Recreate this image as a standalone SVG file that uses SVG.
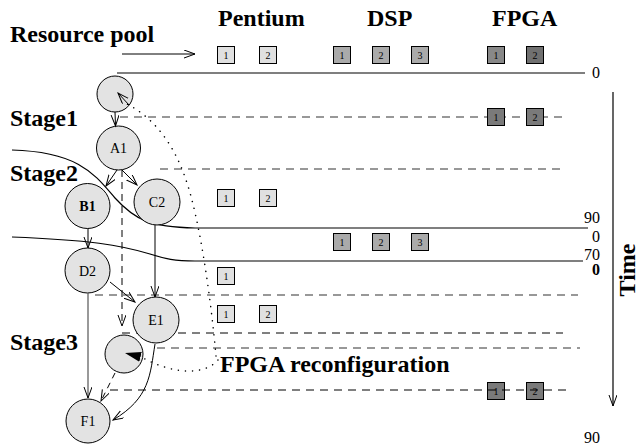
<svg xmlns="http://www.w3.org/2000/svg" width="641" height="448" viewBox="0 0 641 448">
<defs>
<marker id="open" markerUnits="userSpaceOnUse" markerWidth="14" markerHeight="10" refX="11" refY="4" orient="auto">
<path d="M0,0 L11,4 L0,8" fill="none" stroke="#000" stroke-width="1"/>
</marker>
<marker id="filled" markerUnits="userSpaceOnUse" markerWidth="18" markerHeight="12" refX="16" refY="5" orient="auto">
<path d="M0,0 L16,5 L0,10 Z" fill="#000"/>
</marker>
<style>
.big{font-family:"Liberation Serif","Times New Roman",serif;font-weight:bold;font-size:24px;fill:#000}
.num{font-family:"Liberation Serif","Times New Roman",serif;font-size:16px;fill:#000}
.lbl{font-family:"Liberation Serif","Times New Roman",serif;font-size:14px;text-anchor:middle;fill:#000}
.bx text{font-family:"Liberation Serif","Times New Roman",serif;font-size:10px;text-anchor:middle;fill:#000}
.pen rect{fill:#e0e0e0;stroke:#000;stroke-width:1}
.dsp rect{fill:#aaaaaa;stroke:#000;stroke-width:1}
.fpg rect{fill:#7a7a7a;stroke:#000;stroke-width:1}
.node circle{fill:#e3e3e3;stroke:#000;stroke-width:1}
.solid{fill:none;stroke:#000;stroke-width:1.2}
.gdash{fill:none;stroke:#777;stroke-width:1.4;stroke-dasharray:8 6}
.kdash{fill:none;stroke:#000;stroke-width:1;stroke-dasharray:8 6}
.arr{fill:none;stroke:#000;stroke-width:1;marker-end:url(#open)}
.dot{fill:none;stroke:#000;stroke-width:1.5;stroke-dasharray:0.1 7;stroke-linecap:round}
</style>
</defs>
<rect width="641" height="448" fill="#fff"/>

<g id="labels">
<text class="big" x="10" y="42">Resource pool</text>
<text class="big" x="218" y="26">Pentium</text>
<text class="big" x="367" y="26">DSP</text>
<text class="big" x="492" y="26">FPGA</text>
<text class="big" x="10" y="126">Stage1</text>
<text class="big" x="10" y="181">Stage2</text>
<text class="big" x="10" y="350">Stage3</text>
<text class="big" x="220" y="372">FPGA reconfiguration</text>
<text class="big" text-anchor="middle" transform="translate(635,270) rotate(-90)">Time</text>
<text class="num" x="600" y="78" text-anchor="end">0</text>
<text class="num" x="600" y="223" text-anchor="end">90</text>
<text class="num" x="600" y="242" text-anchor="end">0</text>
<text class="num" x="600" y="259.5" text-anchor="end" font-size="15">70</text>
<text class="num" x="600" y="275" text-anchor="end" font-size="15" font-weight="bold">0</text>
<text class="num" x="600" y="443" text-anchor="end">90</text>
</g>

<g id="timeline">
<path class="solid" d="M117,73 L585,73"/>
<path class="solid" d="M12,150 C80,152 95,175 115,198 C135,220 150,227 195,228 L588,228"/>
<path class="solid" d="M12,237 C90,240 120,245 150,254 C165,259 175,261 195,261 L583,261"/>
<path class="gdash" d="M120,117 L568,117"/>
<path class="gdash" d="M160,169 L565,169"/>
<path class="gdash" d="M95,295 L578,295"/>
<path class="kdash" d="M122,333 L563,333"/>
<path class="gdash" d="M157,348 L580,348"/>
<path class="solid" d="M613,92 L613,406" marker-end="url(#open)"/>
</g>

<g id="resources" class="bx">
<g class="pen">
<rect x="217.5" y="46.5" width="17" height="17"/><text x="226" y="59">1</text>
<rect x="259.5" y="46.5" width="17" height="17"/><text x="268" y="59">2</text>
<rect x="217.5" y="189.5" width="17" height="17"/><text x="226" y="202">1</text>
<rect x="259.5" y="189.5" width="17" height="17"/><text x="268" y="202">2</text>
<rect x="217.5" y="267.5" width="17" height="17"/><text x="226" y="280">1</text>
<rect x="217.5" y="305.5" width="17" height="17"/><text x="226" y="318">1</text>
<rect x="259.5" y="305.5" width="17" height="17"/><text x="268" y="318">2</text>
</g>
<g class="dsp">
<rect x="333.5" y="46.5" width="17" height="17"/><text x="342" y="59">1</text>
<rect x="372.5" y="46.5" width="17" height="17"/><text x="381" y="59">2</text>
<rect x="411.5" y="46.5" width="17" height="17"/><text x="420" y="59">3</text>
<rect x="333.5" y="233.5" width="17" height="17"/><text x="342" y="246">1</text>
<rect x="372.5" y="233.5" width="17" height="17"/><text x="381" y="246">2</text>
<rect x="411.5" y="233.5" width="17" height="17"/><text x="420" y="246">3</text>
</g>
<g class="fpg">
<rect x="487.5" y="46.5" width="17" height="17" style="fill:#888"/><text x="496" y="59">1</text>
<rect x="526.5" y="46.5" width="17" height="17" style="fill:#707070"/><text x="535" y="59">2</text>
<rect x="487.5" y="108.5" width="17" height="17"/><text x="496" y="121">1</text>
<rect x="526.5" y="108.5" width="17" height="17"/><text x="535" y="121">2</text>
<rect x="487.5" y="382.5" width="17" height="17"/><text x="496" y="395">1</text>
<rect x="526.5" y="382.5" width="17" height="17"/><text x="535" y="395">2</text>
</g>
<path class="kdash" d="M110,390 L568,390"/>
</g>

<g id="node-top" class="node"><circle cx="115" cy="94" r="18"/></g>
<g id="node-A1" class="node"><circle cx="118.5" cy="148" r="22"/><text class="lbl" x="118.5" y="153">A1</text></g>
<g id="node-B1" class="node"><circle cx="87.5" cy="206" r="22.5"/><text class="lbl" x="87.5" y="211" font-weight="bold">B1</text></g>
<g id="node-C2" class="node"><circle cx="157" cy="202" r="23"/><text class="lbl" x="157" y="207">C2</text></g>
<g id="node-D2" class="node"><circle cx="87.5" cy="270.5" r="22.5"/><text class="lbl" x="87.5" y="275.5">D2</text></g>
<g id="node-E1" class="node"><circle cx="156" cy="320" r="23"/><text class="lbl" x="156" y="325">E1</text></g>
<g id="node-recfg" class="node"><circle cx="124" cy="354" r="19"/></g>
<g id="node-F1" class="node"><circle cx="88" cy="421" r="22"/><text class="lbl" x="88" y="426">F1</text></g>

<g id="connectors">
<path class="arr" d="M122,54 L195,54"/>
<path class="arr" d="M115,112 L115.5,126"/>
<path class="arr" d="M117,170 L106,186"/>
<path class="arr" d="M122,170 L137,185"/>
<path d="M122,170 L122,326" style="fill:none;stroke:#000;stroke-width:1;stroke-dasharray:7 5;marker-end:url(#open)"/>
<path class="arr" d="M88,228.5 L88,248"/>
<path class="arr" d="M155,225 L155,297"/>
<path class="arr" d="M110,282 L135,302"/>
<path d="M88,293 L88,398" style="fill:none;stroke:#555;stroke-width:1.2;marker-end:url(#open)"/>
<path d="M115,373 L101,401" style="fill:none;stroke:#000;stroke-width:1;stroke-dasharray:6 5;marker-end:url(#open)"/>
<path class="arr" d="M155,344 C150,375 150,398 113,420"/>
<path class="dot" d="M216,356 C211,300 200,220 186,180 C176,150 158,120 127,104"/>
<path d="M129,105 L118,93" style="fill:none;stroke:#000;stroke-width:1;marker-end:url(#open)"/>
<path class="dot" d="M218,360 C205,375 175,375 143,358"/>
<path d="M141,357 L125,353" style="fill:none;stroke:none;marker-end:url(#filled)"/>
</g>
</svg>
